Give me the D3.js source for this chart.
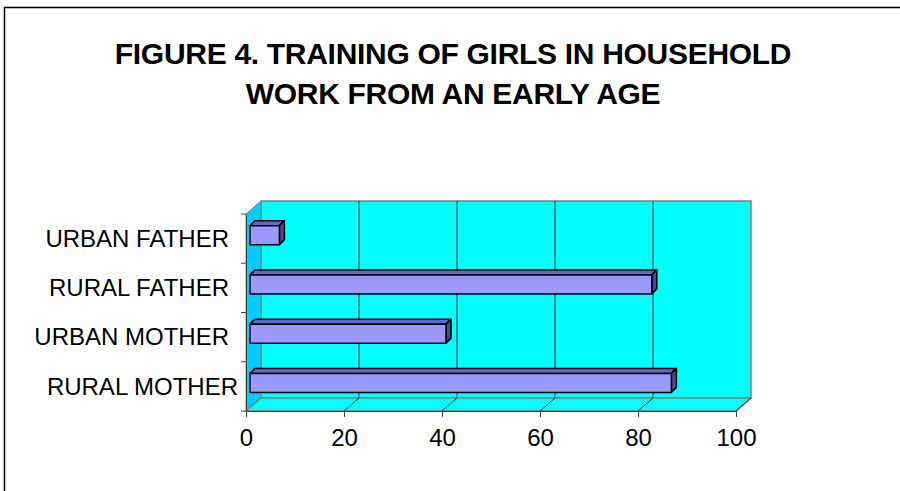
<!DOCTYPE html>
<html lang="en">
<head>
<meta charset="UTF-8">
<title>Training of girls in household work</title>
<script src="https://d3js.org/d3.v7.min.js"></script>
<style>
  body { margin: 0; background: #fff; font-family: "Liberation Sans", Arial, sans-serif; }
</style>
</head>
<body>
<script>
// data
const categories = ["URBAN FATHER", "RURAL FATHER", "URBAN MOTHER", "RURAL MOTHER"];
const values = [6, 82, 40, 86];
const xTicks = [0, 20, 40, 60, 80, 100];
const titleLines = ["FIGURE 4. TRAINING OF GIRLS IN HOUSEHOLD", "WORK FROM AN EARLY AGE"];

const W = 900, H = 491;
const depth = { dx: 15, dy: -13 };      // depth of the 3D walls
const barOff = { dx: 4, dy: -3.5 };     // bar front face inside the box
const barDepth = { dx: 5, dy: -5 };
const barH = 19;

const svg = d3.select("body").append("svg")
    .attr("width", W).attr("height", H);

// outer frame (top and left only visible)
svg.append("path")
    .attr("d", `M4.5,${H} L4.5,7.5 L${W},7.5`)
    .attr("fill", "none").attr("stroke", "#000").attr("stroke-width", 1.5);

// title
svg.append("g").selectAll("text")
    .data(titleLines)
    .join("text")
    .attr("x", 453)
    .attr("y", (d, i) => 64 + i * 40)
    .attr("text-anchor", "middle")
    .style("font-size", "30px")
    .style("font-weight", "bold")
    .style("letter-spacing", "-0.3px")
    .text(d => d);

// scales
const x = d3.scaleLinear().domain([0, 100]).range([246, 736]);
const y = d3.scaleBand().domain(categories).range([214, 411]);
const y0 = y.range()[0], y1 = y.range()[1];

const pts = p => p.map(d => d.join(",")).join(" ");

// back wall
svg.append("polygon")
    .attr("points", pts([[x(0) + depth.dx, y0 + depth.dy], [x(100) + depth.dx, y0 + depth.dy],
                         [x(100) + depth.dx, y1 + depth.dy], [x(0) + depth.dx, y1 + depth.dy]]))
    .attr("fill", "#00ffff").attr("stroke", "#808080").attr("stroke-width", 1.5);

// left wall
svg.append("polygon")
    .attr("points", pts([[x(0), y0], [x(0) + depth.dx, y0 + depth.dy],
                         [x(0) + depth.dx, y1 + depth.dy], [x(0), y1]]))
    .attr("fill", "#00ccff").attr("stroke", "#808080").attr("stroke-width", 1);

// floor
svg.append("polygon")
    .attr("points", pts([[x(0), y1], [x(0) + depth.dx, y1 + depth.dy],
                         [x(100) + depth.dx, y1 + depth.dy], [x(100), y1]]))
    .attr("fill", "#00ffff").attr("stroke", "#808080").attr("stroke-width", 1.5);

// gridlines on back wall and floor
const inner = xTicks.filter(d => d > 0 && d < 100);
svg.append("g").selectAll("line")
    .data(inner)
    .join("line")
    .attr("x1", d => x(d) + depth.dx).attr("x2", d => x(d) + depth.dx)
    .attr("y1", y0 + depth.dy).attr("y2", y1 + depth.dy)
    .attr("stroke", "#1a5858").attr("stroke-width", 1.3);

svg.append("g").selectAll("line")
    .data(xTicks.filter(d => d > 0))
    .join("line")
    .attr("x1", d => x(d)).attr("x2", d => x(d) + depth.dx)
    .attr("y1", y1).attr("y2", y1 + depth.dy)
    .attr("stroke", "#333").attr("stroke-width", 1);

// axes
const xAxis = svg.append("g")
    .attr("transform", `translate(0,${y1})`)
    .call(d3.axisBottom(x).tickValues(xTicks).tickSize(6).tickPadding(12));
xAxis.select(".domain").attr("stroke", "#444");
xAxis.selectAll(".tick line").attr("stroke", "#444");
xAxis.selectAll("text").style("font-size", "24px").style("font-family", "Liberation Sans, Arial, sans-serif")
    .attr("fill", "#000");

const yAxis = svg.append("g")
    .attr("transform", `translate(${x(0)},0)`)
    .call(d3.axisLeft(y).tickSize(0).tickPadding(17));
yAxis.select(".domain").attr("stroke", "#444");
yAxis.selectAll("text").style("font-size", "24px").style("font-family", "Liberation Sans, Arial, sans-serif")
    .attr("fill", "#000").attr("dy", "0.34em");
// the bottom label sits a little further right in the original
yAxis.selectAll(".tick").filter(d => d === categories[categories.length - 1])
    .select("text").attr("dx", 9);

// tick marks at band boundaries
svg.append("g").selectAll("line")
    .data([...categories.map(c => y(c)), y1])
    .join("line")
    .attr("x1", x(0) - 5).attr("x2", x(0))
    .attr("y1", d => d).attr("y2", d => d)
    .attr("stroke", "#444");

// bars
const bars = svg.append("g").selectAll("g")
    .data(categories.map((c, i) => ({ cat: c, v: values[i] })))
    .join("g")
    .attr("stroke", "#000").attr("stroke-width", 1.5).attr("stroke-linejoin", "round");

const bx0 = () => x(0) + barOff.dx;
const bx1 = d => x(d.v) + barOff.dx;
const by0 = d => y(d.cat) + (y.bandwidth() - barH) / 2 + barOff.dy;

// top face
bars.append("polygon")
    .attr("points", d => pts([[bx0(), by0(d)], [bx0() + barDepth.dx, by0(d) + barDepth.dy],
                              [bx1(d) + barDepth.dx, by0(d) + barDepth.dy], [bx1(d), by0(d)]]))
    .attr("fill", "#6666cc");
// side face
bars.append("polygon")
    .attr("points", d => pts([[bx1(d), by0(d)], [bx1(d) + barDepth.dx, by0(d) + barDepth.dy],
                              [bx1(d) + barDepth.dx, by0(d) + barH + barDepth.dy], [bx1(d), by0(d) + barH]]))
    .attr("fill", "#4c4c8c");
// front face
bars.append("rect")
    .attr("x", bx0())
    .attr("y", d => by0(d))
    .attr("width", d => bx1(d) - bx0())
    .attr("height", barH)
    .attr("fill", "#9999ff");
</script>
</body>
</html>
